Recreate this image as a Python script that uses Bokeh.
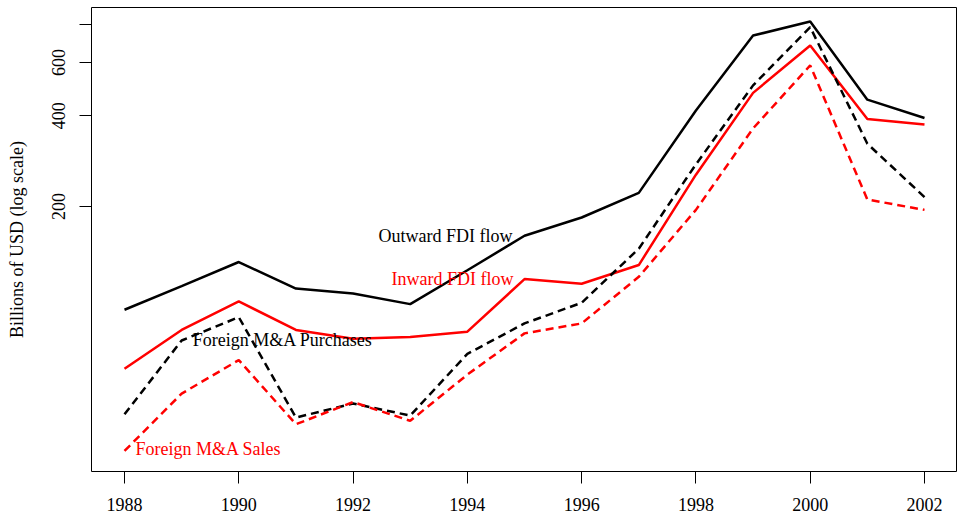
from bokeh.plotting import figure
from bokeh.models import FixedTicker
from bokeh.core.properties import value
from bokeh.embed import file_html
from bokeh.resources import INLINE

# Data (billions of USD)
years = [1988, 1989, 1990, 1991, 1992, 1993, 1994, 1995, 1996, 1997, 1998, 1999, 2000, 2001, 2002]
outward = [91, 109, 131, 107, 103, 95, 123, 160, 184, 222, 416, 737, 820, 452, 393]
inward = [58, 78, 97, 78, 73, 74, 77, 115, 111, 128, 255, 476, 683, 390, 374]
purchases = [41, 72, 86, 40, 44.5, 40.6, 65, 82, 96, 145, 276, 504, 786, 323, 215]
sales = [31, 48, 62, 38, 45, 39, 55.5, 76, 82, 117, 195, 363, 587, 211, 195]

x_ticks = [1988, 1990, 1992, 1994, 1996, 1998, 2000, 2002]
y_ticks = [200, 400, 600, 800]
y_tick_labels = ["200", "400", "600", ""]

FONT = "Liberation Serif"

p = figure(width=957, height=518, y_axis_type="log",
           x_range=(1987.4225, 2002.56), y_range=(26.5, 913),
           output_backend="svg", toolbar_location=None,
           min_border_left=91, min_border_right=1, min_border_top=7, min_border_bottom=47)

p.background_fill_color = "white"
p.border_fill_color = "white"
p.outline_line_color = "black"
p.outline_line_width = 1
p.xgrid.grid_line_color = None
p.ygrid.grid_line_color = None

p.xaxis.ticker = FixedTicker(ticks=x_ticks)
p.xaxis.major_label_overrides = {t: str(t) for t in x_ticks}
p.yaxis.ticker = FixedTicker(ticks=y_ticks)
p.yaxis.major_label_overrides = {t: l for t, l in zip(y_ticks, y_tick_labels)}
p.yaxis.major_label_orientation = "vertical"

for ax in (p.xaxis, p.yaxis):
    ax.axis_line_color = None
    ax.major_tick_line_color = "black"
    ax.major_tick_line_width = 1
    ax.major_tick_in = 0
    ax.major_tick_out = 12
    ax.minor_tick_line_color = None
    ax.major_label_text_font = FONT
    ax.major_label_text_font_size = "18px"
    ax.major_label_text_color = "black"

p.xaxis.major_label_standoff = 14
p.yaxis.major_label_standoff = 14
p.yaxis.axis_label = "Billions of USD (log scale)"
p.yaxis.axis_label_text_font = FONT
p.yaxis.axis_label_text_font_size = "18px"
p.yaxis.axis_label_text_font_style = "normal"
p.yaxis.axis_label_text_color = "black"
p.yaxis.axis_label_standoff = 23

p.line(years, outward, line_color="black", line_width=2.5)
p.line(years, inward, line_color="#FF0000", line_width=2.5)
p.line(years, purchases, line_color="black", line_width=2.5, line_dash="8 5")
p.line(years, sales, line_color="#FF0000", line_width=2.5, line_dash="8 5")

common = dict(text_font=value(FONT), text_font_size="18px", text_baseline="middle")
p.text(x=[years[7]], y=[outward[7]], text=["Outward FDI flow"], text_align="right",
       x_offset=-12, text_color="black", **common)
p.text(x=[years[7]], y=[inward[7]], text=["Inward FDI flow"], text_align="right",
       x_offset=-11, text_color="#FF0000", **common)
p.text(x=[years[1]], y=[purchases[1]], text=["Foreign M&A Purchases"], text_align="left",
       x_offset=11, text_color="black", **common)
p.text(x=[years[0]], y=[sales[0]], text=["Foreign M&A Sales"], text_align="left",
       x_offset=11, y_offset=-2, text_color="#FF0000", **common)

open("out.html", "w").write(file_html(p, INLINE))
